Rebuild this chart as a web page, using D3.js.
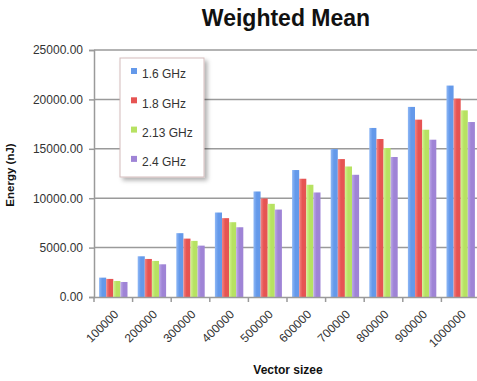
<!DOCTYPE html>
<html><head><meta charset="utf-8">
<script src="https://cdn.jsdelivr.net/npm/d3@7"></script>
<style>body{margin:0;background:#fff}svg{display:block}</style>
</head><body>
<svg id="chart" width="477" height="381"></svg>
<script>
const categories = ["100000","200000","300000","400000","500000","600000","700000","800000","900000","1000000"];
const seriesNames = ["1.6 GHz","1.8 GHz","2.13 GHz","2.4 GHz"];
const s16  = [1960, 4120, 6460, 8550, 10680, 12850, 14970, 17110, 19240, 21400];
const s18  = [1830, 3850, 5910, 7980, 9970, 11970, 13960, 15990, 17950, 20080];
const s213 = [1620, 3650, 5680, 7570, 9430, 11360, 13210, 15080, 16930, 18890];
const s24  = [1520, 3310, 5200, 7060, 8850, 10580, 12370, 14170, 15920, 17710];
const yTicks = [0, 5000, 10000, 15000, 20000, 25000];
const colors = ["#6499ea", "#e65453", "#b7e262", "#9f84d6"];
const lightColors = ["#8fb8f6", "#f28584", "#d3f293", "#bda9e8"];

(function () {
const series = [s16, s18, s213, s24];
const svg = d3.select("#chart");
const font = "'Liberation Sans', Arial, sans-serif";
const mLeft = 94, mRight = 480, mTop = 50, mBottom = 297;

const x0 = d3.scaleBand().domain(categories).range([mLeft, mRight]).paddingInner(0.264).paddingOuter(0.132);
const x1 = d3.scaleBand().domain(d3.range(4)).range([0, x0.bandwidth()]).padding(0);
const y = d3.scaleLinear().domain([0, 25000]).range([mBottom, mTop]);

const defs = svg.append("defs");
colors.forEach((c, i) => {
  const g = defs.append("linearGradient").attr("id", "g" + i).attr("x1", "0").attr("x2", "1").attr("y1", "0").attr("y2", "0");
  g.append("stop").attr("offset", "0").attr("stop-color", lightColors[i]);
  g.append("stop").attr("offset", "0.45").attr("stop-color", c);
  g.append("stop").attr("offset", "1").attr("stop-color", c);
});
const sh = defs.append("filter").attr("id", "shadow").attr("x", "-20%").attr("y", "-20%").attr("width", "150%").attr("height", "150%");
sh.append("feDropShadow").attr("dx", 3).attr("dy", 3).attr("stdDeviation", 2).attr("flood-color", "#000").attr("flood-opacity", 0.3);

svg.append("text").attr("x", 286).attr("y", 26).attr("text-anchor", "middle")
  .attr("font-family", font).attr("font-weight", "bold").attr("font-size", 23).attr("fill", "#111")
  .text("Weighted Mean");

svg.append("g").selectAll("line").data(yTicks.filter(d => d > 0)).join("line")
  .attr("x1", mLeft).attr("x2", 477).attr("y1", d => y(d)).attr("y2", d => y(d))
  .attr("stroke", "#9a9a9a").attr("stroke-width", 1.5);

const yAxis = d3.axisLeft(y).tickValues(yTicks).tickFormat(d3.format(".2f")).tickSize(5).tickPadding(6);
const gy = svg.append("g").attr("transform", `translate(${mLeft},0)`).call(yAxis);
gy.select(".domain").attr("stroke", "#9a9a9a").attr("stroke-width", 1.5);
gy.selectAll(".tick line").attr("stroke", "#9a9a9a").attr("stroke-width", 1.5);
gy.selectAll("text").attr("font-family", font).attr("font-size", 12).attr("fill", "#333");

svg.append("g").selectAll("g").data(categories).join("g")
  .attr("transform", d => `translate(${x0(d)},0)`)
  .selectAll("rect").data((d, ci) => series.map((s, si) => ({si, v: s[ci]}))).join("rect")
  .attr("x", d => x1(d.si)).attr("width", x1.bandwidth())
  .attr("y", d => y(d.v)).attr("height", d => mBottom - y(d.v))
  .attr("fill", d => `url(#g${d.si})`);

const xAxis = d3.axisBottom(x0).tickSize(0).tickPadding(0);
const gx = svg.append("g").attr("transform", `translate(0,${mBottom})`).call(xAxis);
gx.select(".domain").attr("stroke", "#9a9a9a").attr("stroke-width", 1.5);
gx.selectAll(".tick text").attr("font-family", font).attr("font-size", 12).attr("fill", "#333")
  .attr("text-anchor", "end").attr("x", 0).attr("y", 0).attr("dx", 0).attr("dy", "0.35em")
  .attr("transform", "translate(3,15) rotate(-45)");
svg.append("g").selectAll("line").data(categories.slice(1)).join("line")
  .attr("x1", d => x0(d) - x0.step() * x0.paddingInner() / 2)
  .attr("x2", d => x0(d) - x0.step() * x0.paddingInner() / 2)
  .attr("y1", mBottom).attr("y2", mBottom + 5).attr("stroke", "#9a9a9a").attr("stroke-width", 1.5);
svg.append("line").attr("x1", mLeft).attr("x2", mLeft).attr("y1", mBottom).attr("y2", mBottom + 5).attr("stroke", "#9a9a9a").attr("stroke-width", 1.5);

svg.append("text").attr("x", 288).attr("y", 374).attr("text-anchor", "middle")
  .attr("font-family", font).attr("font-weight", "bold").attr("font-size", 12).attr("fill", "#111")
  .text("Vector sizee");
svg.append("text").attr("transform", "translate(14,175) rotate(-90)").attr("text-anchor", "middle")
  .attr("font-family", font).attr("font-weight", "bold").attr("font-size", 11.5).attr("fill", "#111")
  .text("Energy (nJ)");

const lg = svg.append("g");
lg.append("rect").attr("x", 120).attr("y", 58).attr("width", 84).attr("height", 119)
  .attr("fill", "#fff").attr("stroke", "#d4bcbc").attr("stroke-width", 1).attr("filter", "url(#shadow)");
const items = lg.selectAll("g").data(seriesNames).join("g")
  .attr("transform", (d, i) => `translate(131,${73 + i * 29.3})`);
items.append("rect").attr("x", 0).attr("y", -5).attr("width", 6).attr("height", 6).attr("fill", (d, i) => colors[i]);
items.append("text").attr("x", 11).attr("y", 1).attr("dy", "0.35em").attr("font-family", font).attr("font-size", 12).attr("fill", "#333").text(d => d);
})();
</script>
</body></html>
